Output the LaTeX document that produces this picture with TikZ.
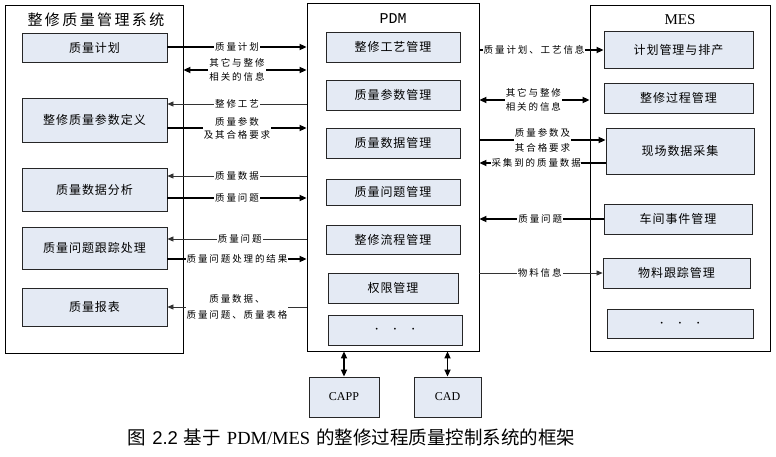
\documentclass[tikz,border=0pt]{standalone}
\usepackage{fontspec}
\setmainfont{Noto Sans CJK SC}
\newfontfamily\latserif{Liberation Serif}
\newfontfamily\latmono{Liberation Mono}
\newfontfamily\latsans{Liberation Sans}
\newfontfamily\cjkbox{Noto Sans CJK SC}[LetterSpace=8]
\newfontfamily\cjklab{Noto Sans CJK SC}[LetterSpace=20]
\newfontfamily\cjktitle{Noto Sans CJK SC}[LetterSpace=16]
\usetikzlibrary{arrows.meta,shadows}
\definecolor{boxfill}{HTML}{E4EAF4}
\newcommand{\mydots}{{\fontsize{16}{16}\selectfont$\cdot\;\;\cdot\;\;\cdot$}}
\begin{document}
\begin{tikzpicture}[x=1pt,y=-1pt,
  shad/.style={drop shadow={shadow xshift=1.3pt,shadow yshift=-1.3pt,fill=black!85,opacity=1}},
  modbox/.style={draw=black!85,fill=boxfill,line width=0.8pt,shad,inner sep=0pt,
     font=\fontsize{12}{13}\selectfont\cjkbox},
  outerbox/.style={draw=black,fill=white,line width=0.8pt,shad,inner sep=0pt},
  thk/.style={line width=1.6pt,-{Triangle[length=7pt,width=6pt]}},
  thkd/.style={line width=1.6pt,{Triangle[length=7pt,width=6pt]}-{Triangle[length=7pt,width=6pt]}},
  thn/.style={line width=0.7pt,draw=black!80,-{Triangle[length=6pt,width=5pt]}},
  lab/.style={fill=white,inner sep=1pt,font=\fontsize{9.5}{14}\selectfont\cjklab,align=center},
  ttl/.style={inner sep=0pt}
]
\useasboundingbox (0,0) rectangle (776,457);

% outer systems
\node[outerbox,minimum width=178pt,minimum height=348pt] (L) at (94,179) {};
\node[outerbox,minimum width=172pt,minimum height=348pt] (P) at (393,177) {};
\node[outerbox,minimum width=180pt,minimum height=346pt] (M) at (680,178) {};

\node[ttl,font=\fontsize{15}{16}\selectfont\cjktitle] (Lt) at (96,20) {整修质量管理系统};
\node[ttl,font=\fontsize{15}{16}\selectfont\latmono] (Pt) at (393,19) {PDM};
\node[ttl,font=\fontsize{15}{16}\selectfont\latserif] (Mt) at (680,20) {MES};

% left modules
\node[modbox,minimum width=145pt,minimum height=29pt] (l1) at (94.5,47.5) {质量计划};
\node[modbox,minimum width=145pt,minimum height=44pt] (l2) at (94.5,120) {整修质量参数定义};
\node[modbox,minimum width=145pt,minimum height=43pt] (l3) at (94.5,189.5) {质量数据分析};
\node[modbox,minimum width=145pt,minimum height=42pt] (l4) at (94.5,248) {质量问题跟踪处理};
\node[modbox,minimum width=145pt,minimum height=38pt] (l5) at (94.5,307) {质量报表};

% PDM modules
\node[modbox,minimum width=134pt,minimum height=30pt] (p1) at (393,47) {整修工艺管理};
\node[modbox,minimum width=134pt,minimum height=30pt] (p2) at (393,95) {质量参数管理};
\node[modbox,minimum width=134pt,minimum height=30pt] (p3) at (393,143) {质量数据管理};
\node[modbox,minimum width=134pt,minimum height=26pt] (p4) at (393,192) {质量问题管理};
\node[modbox,minimum width=134pt,minimum height=29pt] (p5) at (393,239.5) {整修流程管理};
\node[modbox,minimum width=130pt,minimum height=30pt] (p6) at (393,288) {权限管理};
\node[modbox,minimum width=134pt,minimum height=30pt] (p7) at (395,330) {\mydots};

% MES modules
\node[modbox,minimum width=149pt,minimum height=37pt] (m1) at (678.5,49.5) {计划管理与排产};
\node[modbox,minimum width=149pt,minimum height=30pt] (m2) at (678.5,98) {整修过程管理};
\node[modbox,minimum width=148pt,minimum height=46pt] (m3) at (680,151) {现场数据采集};
\node[modbox,minimum width=148pt,minimum height=30pt] (m4) at (678,219) {车间事件管理};
\node[modbox,minimum width=147pt,minimum height=30pt] (m5) at (676.5,273) {物料跟踪管理};
\node[modbox,minimum width=146pt,minimum height=29pt] (m6) at (680,323.5) {\mydots};

% CAPP / CAD
\node[modbox,minimum width=70pt,minimum height=40pt,font=\fontsize{12}{13}\selectfont\latserif] (capp) at (344,397) {CAPP};
\node[modbox,minimum width=67pt,minimum height=40pt,font=\fontsize{12}{13}\selectfont\latserif] (cad) at (447.5,397) {CAD};

% left <-> PDM
\draw[thk] (l1.east |- 0,47) -- node[lab]{质量计划} (P.west |- 0,47);
\draw[thkd] (L.east |- 0,70) -- node[lab,pos=0.435]{其它与整修\\相关的信息} (P.west |- 0,70);
\draw[thn] (P.west |- 0,104) -- node[lab]{整修工艺} (l2.east |- 0,104);
\draw[thk] (l2.east |- 0,128) -- node[lab,font=\fontsize{9.5}{13}\selectfont\cjklab]{质量参数\\及其合格要求} (P.west |- 0,128);
\draw[thn] (P.west |- 0,176) -- node[lab]{质量数据} (l3.east |- 0,176);
\draw[thk] (l3.east |- 0,198) -- node[lab]{质量问题} (P.west |- 0,198);
\draw[thn] (P.west |- 0,239) -- node[lab,pos=0.48]{质量问题} (l4.east |- 0,239);
\draw[thk] (l4.east |- 0,259) -- node[lab,inner sep=0.5pt]{质量问题处理的结果} (P.west |- 0,259);
\draw[thn] (P.west |- 0,307) -- node[lab,font=\fontsize{9.5}{16}\selectfont\cjklab]{质量数据、\\质量问题、质量表格} (l5.east |- 0,307);

% PDM <-> MES
\draw[thk] (P.east |- 0,50) -- node[lab,pos=0.44,inner sep=0.5pt]{质量计划、工艺信息} (m1.west |- 0,50);
\draw[thkd] (P.east |- 0,100) -- node[lab,pos=0.49]{其它与整修\\相关的信息} (M.west |- 0,100);
\draw[thk] (P.east |- 0,140) -- node[lab,pos=0.5,font=\fontsize{9.5}{15}\selectfont\cjklab]{质量参数及\\其合格要求} (m3.west |- 0,140);
\draw[thk] (m3.west |- 0,163) -- node[lab,pos=0.55,inner sep=0.5pt]{采集到的质量数据} (P.east |- 0,163);
\draw[thk] (m4.west) -- node[lab,pos=0.51]{质量问题} (P.east |- m4.west);
\draw[thn] (P.east |- m5.west) -- node[lab,pos=0.49]{物料信息} (m5.west);

% PDM <-> CAPP / CAD
\draw[thkd] (capp.north) -- (P.south -| capp.north);
\draw[thkd] (cad.north) -- (P.south -| cad.north);

% caption
\node[inner sep=0pt,font=\fontsize{18.5}{20}\selectfont] (cap) at (351.5,437)
  {图\hspace{6pt}{\latsans 2.2}\hspace{6pt}基于\hspace{6pt}{\latserif PDM/MES}\hspace{6pt}的整修过程质量控制系统的框架};
\end{tikzpicture}
\end{document}
